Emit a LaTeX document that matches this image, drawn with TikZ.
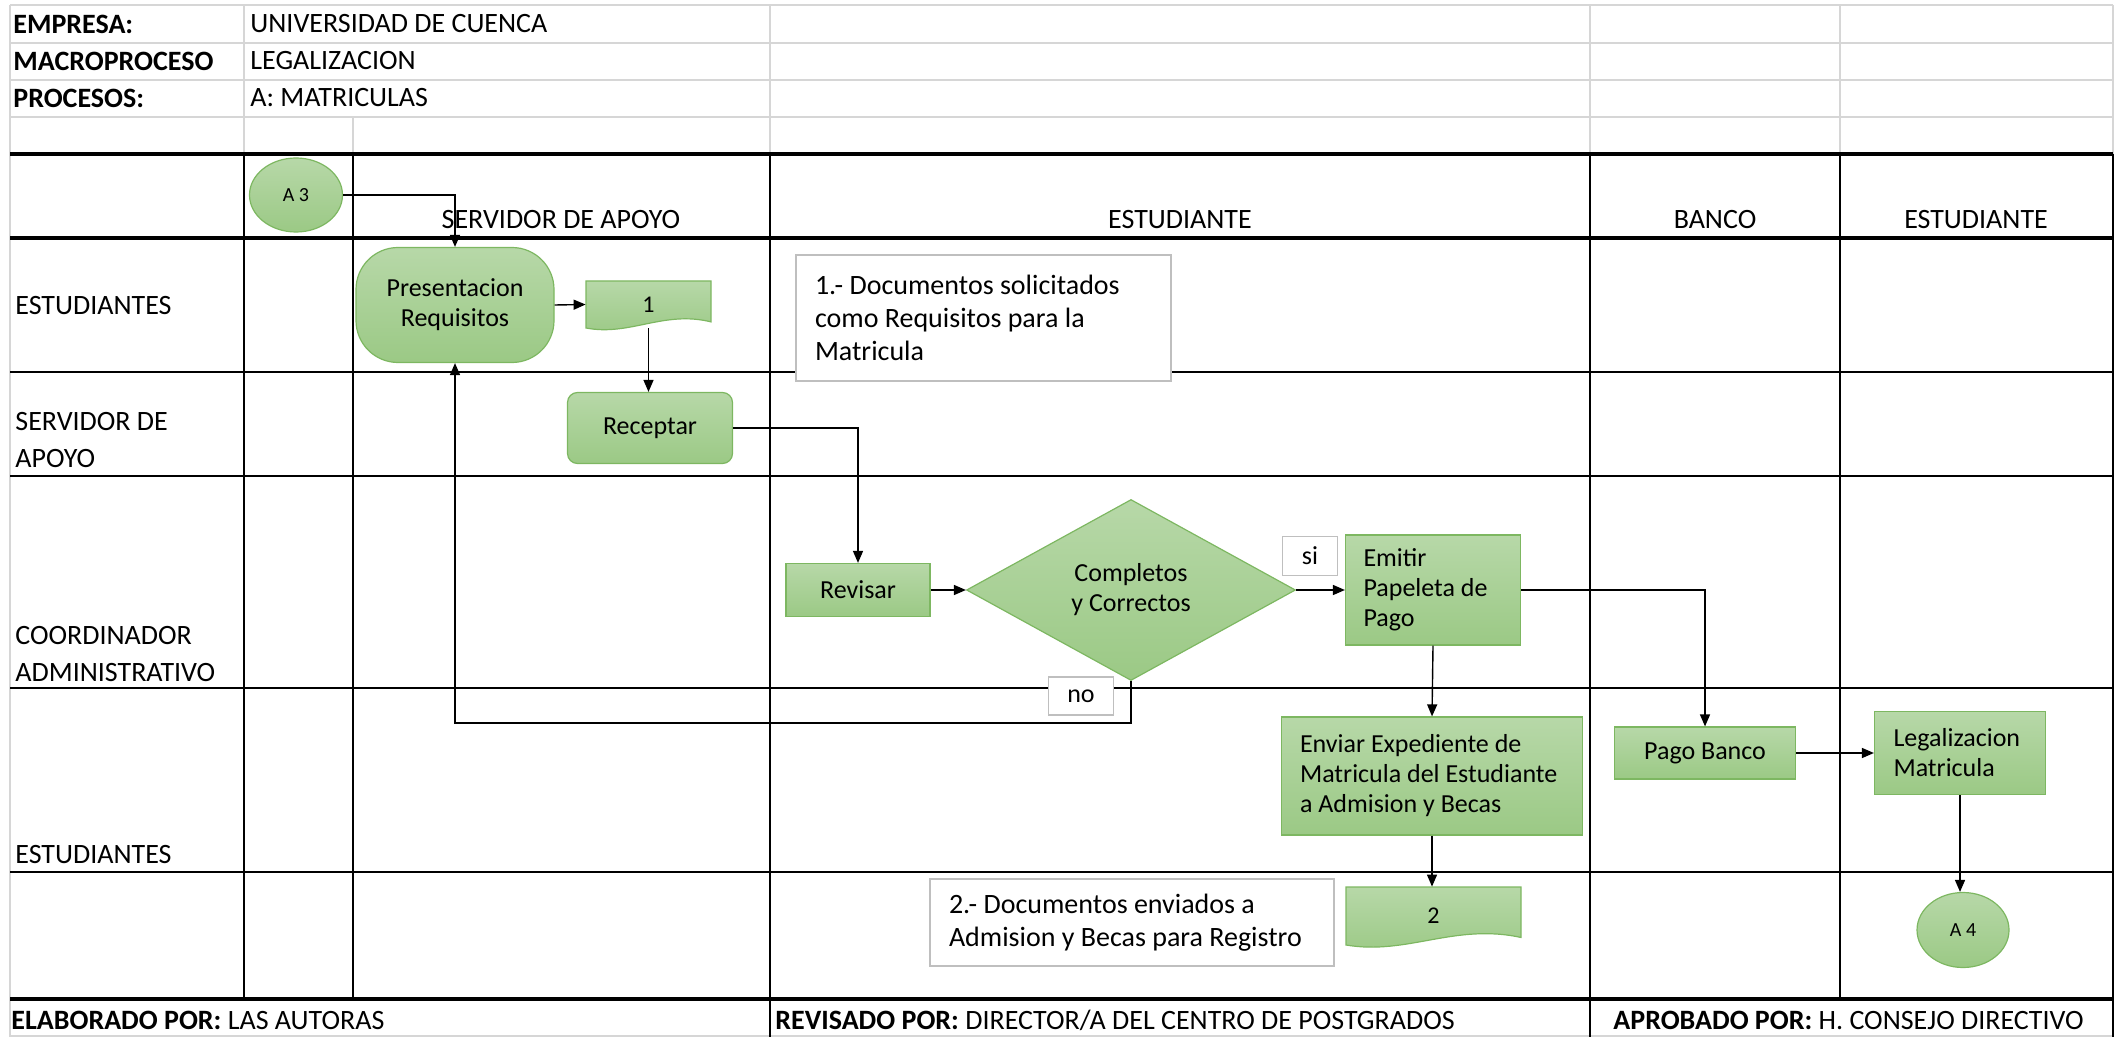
\documentclass[tikz,border=0pt]{standalone}
\usepackage{fontspec}
\setmainfont{Carlito}
\usetikzlibrary{arrows.meta,shapes.geometric}

\definecolor{gtop}{HTML}{B7D8A8}
\definecolor{gbot}{HTML}{9BC985}
\definecolor{gline}{HTML}{7DB761}
\definecolor{cellgray}{HTML}{D6D6D6}
\definecolor{notegray}{HTML}{BFBFBF}

% document symbol: left, top, width, height (in px)
\newcommand{\docshape}[4]{%
  \draw[gbox] (#1,#2) -- (#1+#3,#2) -- (#1+#3,#2+0.87*#4)
    .. controls (#1+0.62*#3,#2+0.62*#4) and (#1+0.35*#3,#2+1.18*#4) .. (#1,#2+#4) -- cycle;}

\begin{document}
\begin{tikzpicture}[x=0.5pt, y=-0.5pt,
  big/.style = {font=\fontsize{14}{18.5}\selectfont},
  hdr/.style = {big, anchor=west, inner sep=0pt},
  lane/.style = {big, anchor=west, inner sep=0pt, align=flush left},
  colhd/.style = {big, anchor=base, inner sep=0pt},
  gridgray/.style = {cellgray, line width=0.6pt},
  laneline/.style = {black, line width=1pt},
  laneheavy/.style = {black, line width=1.8pt},
  gbox/.style = {draw=gline, line width=0.6pt, top color=gtop, bottom color=gbot},
  proc/.style = {gbox, rectangle, font=\fontsize{13}{15}\selectfont},
  term/.style = {proc, rounded corners=21pt, align=center},
  decision/.style = {gbox, diamond, inner sep=0pt, align=center, font=\fontsize{13}{15}\selectfont},
  refcirc/.style = {gbox, ellipse, inner sep=0pt, font=\fontsize{10}{12}\selectfont},
  docnum/.style = {inner sep=0pt, font=\fontsize{12}{14}\selectfont},
  note/.style = {draw=notegray, fill=white, line width=0.6pt, align=flush left, inner xsep=9.5pt, font=\fontsize{14}{16.5}\selectfont},
  tag/.style = {draw=notegray, fill=white, line width=0.6pt, inner sep=0pt, font=\fontsize{13}{15}\selectfont},
  conn/.style = {-{Triangle[length=6pt,width=5pt]}, line width=0.7pt},
  ]
  \useasboundingbox (0,0) rectangle (2123,1037);

  % header cells
  \draw[gridgray] (10,5) -- (2113,5) (10,43) -- (2113,43) (10,80) -- (2113,80) (10,117) -- (2113,117)
    (10,5) -- (10,1037) (244,5) -- (244,154) (353,117) -- (353,154) (770,5) -- (770,154)
    (1590,5) -- (1590,154) (1840,5) -- (1840,154) (2113,5) -- (2113,154) (10,1036) -- (2113,1036);
  \node[hdr] (kemp) at (13,24) {\textbf{EMPRESA:}};
  \node[hdr] (vemp) at (250,24) {UNIVERSIDAD DE CUENCA};
  \node[hdr] (kmac) at (13,61) {\textbf{MACROPROCESO}};
  \node[hdr] (vmac) at (250,61) {LEGALIZACION};
  \node[hdr] (kpro) at (13,98) {\textbf{PROCESOS:}};
  \node[hdr] (vpro) at (250,98) {A: MATRICULAS};

  % swimlanes
  \draw[laneheavy] (10,154) -- (2113,154) (10,238) -- (2113,238) (10,999) -- (2113,999);
  \draw[laneline] (10,372) -- (2113,372) (10,476) -- (2113,476) (10,688) -- (2113,688) (10,872) -- (2113,872);
  \draw[laneline] (244,154) -- (244,999) (353,154) -- (353,999) (770,154) -- (770,1037)
    (1590,154) -- (1590,1037) (1840,154) -- (1840,999) (2113,154) -- (2113,1037);

  \node[colhd] (hserv) at (561,229) {SERVIDOR DE APOYO};
  \node[colhd] (hest) at (1180,229) {ESTUDIANTE};
  \node[colhd] (hban) at (1715,229) {BANCO};
  \node[colhd] (hest2) at (1976,229) {ESTUDIANTE};

  \node[lane] (lest) at (15,306) {ESTUDIANTES};
  \node[lane] (lserv) at (15,440) {SERVIDOR DE\\APOYO};
  \node[lane] (lcoor) at (15,654) {COORDINADOR\\ADMINISTRATIVO};
  \node[lane] (lest2) at (15,855) {ESTUDIANTES};

  % footer
  \node[hdr] (felab) at (11,1020) {\textbf{ELABORADO POR:} LAS AUTORAS};
  \node[hdr] (frev) at (775,1020) {\textbf{REVISADO POR:} DIRECTOR/A DEL CENTRO DE POSTGRADOS};
  \node[hdr] (fapr) at (1613,1020) {\textbf{APROBADO POR:} H. CONSEJO DIRECTIVO};

  % flow
  \node[refcirc, minimum width=46.5pt, minimum height=37pt] (a3) at (296,195) {A 3};
  \node[term, minimum width=99pt, minimum height=57.5pt] (pres) at (455,305) {Presentacion\\Requisitos};
  \docshape{586}{281}{125}{47}
  \node[docnum, minimum width=62.5pt, minimum height=23.5pt] (doc1) at (648.5,304.5) {1};
  \node[proc, rounded corners=5pt, minimum width=82.5pt, minimum height=35.5pt] (rec) at (650,428) {Receptar};
  \node[note, text width=168.5pt, minimum height=63pt] (nota1) at (983.5,318)
    {1.- Documentos solicitados\\como Requisitos para la\\Matricula};
  \node[proc, minimum width=72pt, minimum height=26.5pt] (rev) at (858,590) {Revisar};
  \node[decision, minimum width=164.5pt, minimum height=90.5pt] (dec) at (1131,590) {Completos\\y Correctos};
  \node[tag, minimum width=27.5pt, minimum height=19.5pt] (si) at (1310,556) {si};
  \node[tag, minimum width=32.5pt, minimum height=19pt] (no) at (1081,696) {no};
  \node[proc, text width=69.5pt, inner xsep=9pt, minimum height=55pt, align=flush left] (emi) at (1433,590)
    {Emitir\\Papeleta de\\Pago};
  \node[proc, text width=132pt, inner xsep=9.25pt, minimum height=59pt, align=flush left] (env) at (1432,776)
    {Enviar Expediente de\\Matricula del Estudiante\\a Admision y Becas};
  \node[proc, minimum width=90.5pt, minimum height=26pt] (pago) at (1705,753) {Pago Banco};
  \node[proc, text width=66.5pt, inner xsep=9.5pt, minimum height=41.5pt, align=flush left] (leg) at (1960,753)
    {Legalizacion\\Matricula};
  \docshape{1346}{887}{175}{58}
  \node[docnum, minimum width=87.5pt, minimum height=29pt] (doc2) at (1433.5,916) {2};
  \node[note, text width=183pt, minimum height=43.5pt] (nota2) at (1132,922.5)
    {2.- Documentos enviados a\\Admision y Becas para Registro};
  \node[refcirc, minimum width=46pt, minimum height=37.5pt] (a4) at (1963,930) {A 4};

  \coordinate (nofondo) at (1131,723);
  \draw[conn] (a3.east) -| (pres.north);
  \draw[conn] (pres.east) -- (doc1.west);
  \draw[conn] (doc1.south) -- (doc1.south |- rec.north);
  \draw[conn] (rec.east) -| (rev.north);
  \draw[conn] (rev.east) -- (dec.west);
  \draw[conn] (dec.east) -- (emi.west);
  \draw[conn] (dec.south) -- (nofondo) -| (pres.south);
  \draw[conn] (emi.east) -| (pago.north);
  \draw[conn] (emi.south) -- (env.north);
  \draw[conn] (env.south) -- (env.south |- doc2.north);
  \draw[conn] (pago.east) -- (leg.west);
  \draw[conn] (leg.south) -- (leg.south |- a4.north);
\end{tikzpicture}
\end{document}
